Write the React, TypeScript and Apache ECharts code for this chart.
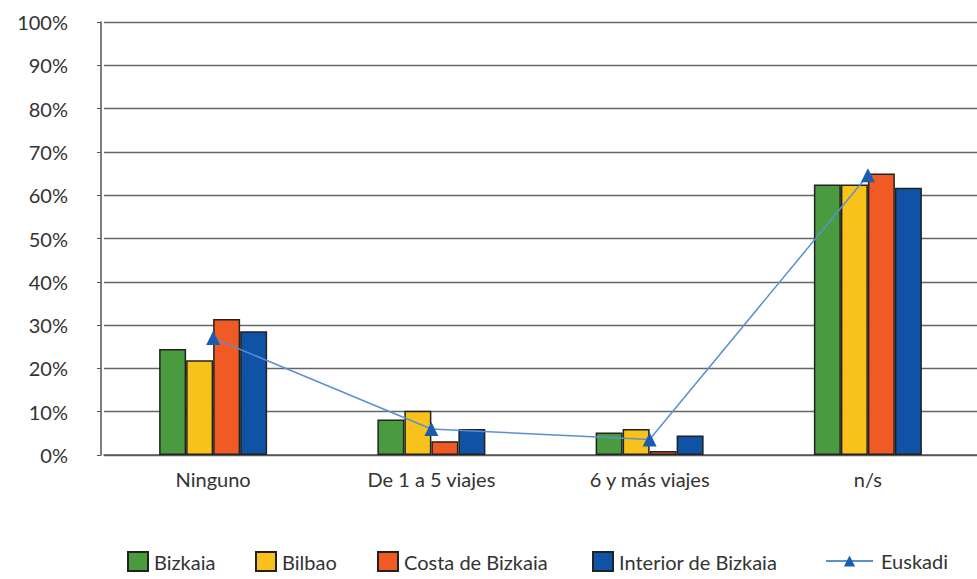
import React, { useEffect, useRef } from "react";
import * as echarts from "echarts";

const categories = ["Ninguno", "De 1 a 5 viajes", "6 y más viajes", "n/s"];
const bizkaia = [24.5, 8.2, 5.2, 62.5];
const bilbao = [21.9, 10.2, 6.0, 62.5];
const costa = [31.4, 3.2, 0.9, 65.0];
const interior = [28.6, 6.0, 4.5, 61.7];
const euskadi = [27.0, 6.0, 3.6, 64.6];

const legendNames = ["Bizkaia", "Bilbao", "Costa de Bizkaia", "Interior de Bizkaia", "Euskadi"];
const legendLefts = [122, 250, 372, 587, 820];

const FONT = "Lato, 'Open Sans', sans-serif";

export default function App() {
  const ref = useRef<HTMLDivElement>(null);
  useEffect(() => {
    if (!ref.current) return;
    const chart = echarts.init(ref.current, undefined, { renderer: "svg" });
    const barStyle = (color: string) => ({
      color,
      borderColor: "#222",
      borderWidth: 1.5,
    });
    const legends = legendNames.map((name, i) => {
      const isLine = name === "Euskadi";
      return {
        left: legendLefts[i],
        top: 546,
        itemGap: 0,
        itemWidth: isLine ? 47 : 20,
        itemHeight: isLine ? 14 : 19,
        textStyle: { fontSize: 20, color: "#333", fontFamily: FONT, padding: [0, 0, 0, isLine ? 3 : 1] },
        data: isLine ? [{ name }] : [{ name, icon: "rect" }],
      };
    });
    chart.setOption({
      animation: false,
      backgroundColor: "#ffffff",
      textStyle: { fontFamily: FONT },
      grid: { left: 104, right: -4, top: 22, bottom: 124 },
      legend: legends,
      xAxis: {
        type: "category",
        data: categories,
        axisLine: { lineStyle: { color: "#555", width: 1.5 } },
        axisTick: { show: false },
        axisLabel: { fontSize: 20, color: "#333", margin: 14, fontFamily: FONT },
      },
      yAxis: {
        type: "value",
        min: 0,
        max: 100,
        interval: 10,
        offset: 3,
        axisLine: { show: true, lineStyle: { color: "#555", width: 1.5 } },
        axisTick: { show: true, length: 4, lineStyle: { color: "#555" } },
        axisLabel: {
          formatter: "{value}%",
          fontSize: 20,
          color: "#333",
          margin: 33,
          fontFamily: FONT,
        },
        splitLine: { lineStyle: { color: "#666", width: 1.3 } },
      },
      series: [
        { name: "Bizkaia", type: "bar", data: bizkaia, barWidth: 27, barGap: "0%", itemStyle: barStyle("#4a9a3f") },
        { name: "Bilbao", type: "bar", data: bilbao, barWidth: 27, barGap: "0%", itemStyle: barStyle("#f9c21b") },
        { name: "Costa de Bizkaia", type: "bar", data: costa, barWidth: 27, barGap: "0%", itemStyle: barStyle("#f05a24") },
        { name: "Interior de Bizkaia", type: "bar", data: interior, barWidth: 27, barGap: "0%", itemStyle: barStyle("#0f52a6") },
        {
          name: "Euskadi",
          type: "line",
          data: euskadi,
          symbol: "triangle",
          symbolSize: 14,
          z: 10,
          lineStyle: { color: "#5a90d0", width: 1.5 },
          itemStyle: { color: "#1a5cb0" },
        },
      ],
    });
    return () => chart.dispose();
  }, []);
  return (
    <div
      ref={ref}
      style={{ position: "fixed", left: 0, top: 0, width: 977, height: 579 }}
    />
  );
}
